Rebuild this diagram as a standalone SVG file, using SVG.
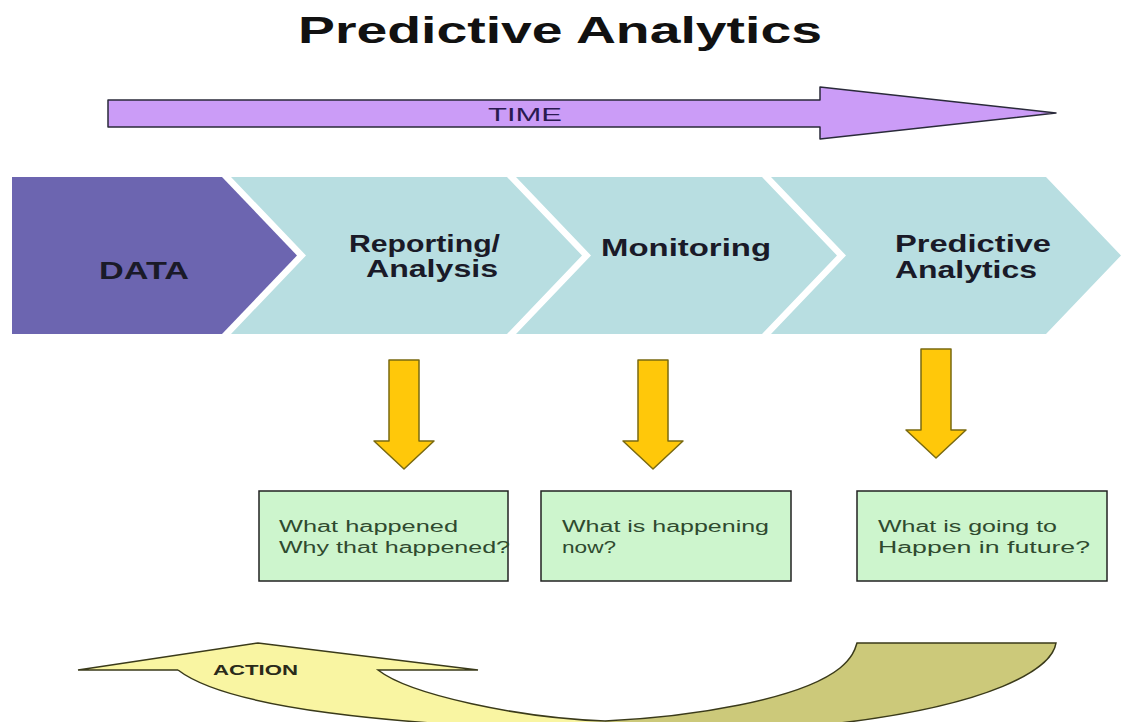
<svg xmlns="http://www.w3.org/2000/svg" width="1121" height="722" viewBox="0 0 1121 722">
<style>
.t{font-family:"Liberation Sans",Arial,sans-serif}
.b{font-weight:bold}
.chev{fill:#B8DEE1}
.yarrow{fill:#FFC80A;stroke:#7a6a10;stroke-width:1.5;stroke-linejoin:round}
.box{fill:#CDF5CD;stroke:#222;stroke-width:1.5}
.boxtxt{font-size:16px;fill:#2f4a2f}
.chtxt{font-size:23px;fill:#1a1a28;font-weight:bold}
.edge{fill:none;stroke:#3a3a1a;stroke-width:1.5}
</style>
<rect width="1121" height="722" fill="#fff"/>
<g id="title">
<text class="t b" x="298" y="43" font-size="36" fill="#111" textLength="524" lengthAdjust="spacingAndGlyphs">Predictive Analytics</text>
</g>
<g id="time">
<polygon points="108,100 820,100 820,87 1056,113 820,139 820,127 108,127" fill="#CB9CF7" stroke="#2a2a3a" stroke-width="1.5" stroke-linejoin="round"/>
<text class="t" x="488" y="121" font-size="19" fill="#2a1a50" textLength="74" lengthAdjust="spacingAndGlyphs">TIME</text>
</g>
<g id="data">
<polygon points="12,177 222,177 297,255.5 222,334 12,334" fill="#6C65B0"/>
<text class="t chtxt" x="99" y="279" textLength="90" lengthAdjust="spacingAndGlyphs">DATA</text>
</g>
<g id="reporting">
<polygon class="chev" points="231,177 507,177 582,255.5 507,334 231,334 306,255.5"/>
<text class="t chtxt" x="349" y="252" textLength="151" lengthAdjust="spacingAndGlyphs">Reporting/</text>
<text class="t chtxt" x="366" y="277" textLength="132" lengthAdjust="spacingAndGlyphs">Analysis</text>
</g>
<g id="monitoring">
<polygon class="chev" points="516,177 762,177 837,255.5 762,334 516,334 591,255.5"/>
<text class="t chtxt" x="601" y="256" textLength="170" lengthAdjust="spacingAndGlyphs">Monitoring</text>
</g>
<g id="predictive">
<polygon class="chev" points="771,177 1046,177 1121,255.5 1046,334 771,334 846,255.5"/>
<text class="t chtxt" x="895" y="252" textLength="156" lengthAdjust="spacingAndGlyphs">Predictive</text>
<text class="t chtxt" x="895" y="278" textLength="142" lengthAdjust="spacingAndGlyphs">Analytics</text>
</g>
<g id="connectors">
<polygon class="yarrow" points="389,360 419,360 419,441 434,441 404,469 374,441 389,441"/>
<polygon class="yarrow" points="638,360 668,360 668,441 683,441 653,469 623,441 638,441"/>
<polygon class="yarrow" points="921,349 951,349 951,430 966,430 936,458 906,430 921,430"/>
</g>
<g id="box1">
<rect class="box" x="259" y="491" width="249" height="90"/>
<text class="t boxtxt" x="279" y="532" textLength="179" lengthAdjust="spacingAndGlyphs">What happened</text>
<text class="t boxtxt" x="279" y="553" textLength="231" lengthAdjust="spacingAndGlyphs">Why that happened?</text>
</g>
<g id="box2">
<rect class="box" x="541" y="491" width="250" height="90"/>
<text class="t boxtxt" x="562" y="532" textLength="207" lengthAdjust="spacingAndGlyphs">What is happening</text>
<text class="t boxtxt" x="562" y="553" textLength="54" lengthAdjust="spacingAndGlyphs">now?</text>
</g>
<g id="box3">
<rect class="box" x="857" y="491" width="250" height="90"/>
<text class="t boxtxt" x="878" y="532" textLength="179" lengthAdjust="spacingAndGlyphs">What is going to</text>
<text class="t boxtxt" x="878" y="553" textLength="212" lengthAdjust="spacingAndGlyphs">Happen in future?</text>
</g>
<g id="action">
<path d="M78,670 L258,643 L478,670 L378,670 C410,695 520,718 605,721 L605,740 L560,740 L560,730 C400,724 230,710 178,670 Z" fill="#F9F5A2"/>
<path d="M605,721 C690,717 800,700 840,668 C852,658 855,650 857,643 L1056,643 C1052,670 990,705 840,723 L700,740 L605,740 Z" fill="#CCC97A"/>
<path class="edge" d="M178,670 L78,670 L258,643 L478,670 L378,670 C410,695 520,718 605,721 C690,717 800,700 840,668 C852,658 855,650 857,643 L1056,643 C1052,670 990,705 840,723"/>
<path class="edge" d="M178,670 C230,710 400,724 560,730"/>
<text class="t b" x="213" y="675" font-size="14" fill="#2a2a1a" textLength="85" lengthAdjust="spacingAndGlyphs">ACTION</text>
</g>
</svg>
